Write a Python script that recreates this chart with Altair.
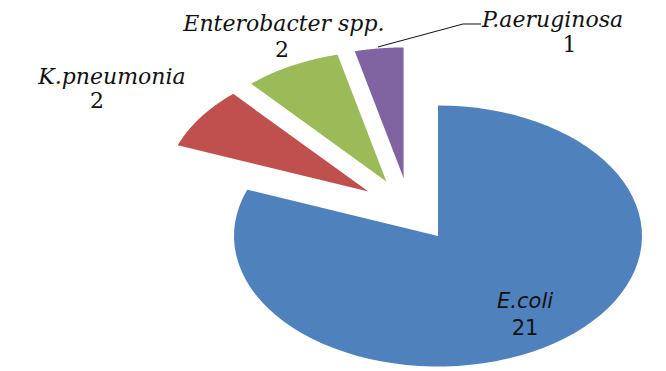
import altair as alt
import pandas as pd

# Isolates by organism
organisms = ["E.coli", "K.pneumonia", "Enterobacter spp.", "P.aeruginosa"]
counts = [21, 2, 2, 1]
colors = ["#4F81BD", "#C0504D", "#9BBB59", "#8064A2"]

# Layout (pixels): pie centre, horizontal / vertical radii, explosion
W, H = 666, 371
CX, CY = 409.6, 209.7
RX, RY = 204.0, 130.5
EXPLODE = 0.245
N_SEG = 80

# Unit-circle domains so that the scales stretch the pie to an ellipse
x_dom = [-CX / RX, (W - CX) / RX]
y_dom = [-(H - CY) / RY, CY / RY]
xs = alt.Scale(domain=x_dom, nice=False, zero=False)
ys = alt.Scale(domain=y_dom, nice=False, zero=False)

slices = pd.DataFrame({"name": organisms, "n": counts, "idx": range(len(organisms))})

pie = (
    alt.Chart(slices)
    .transform_window(cum="sum(n)", sort=[alt.SortField("idx")], frame=[None, 0])
    .transform_joinaggregate(total="sum(n)")
    .transform_calculate(
        a0="2*PI*(datum.cum - datum.n)/datum.total",
        a1="2*PI*datum.cum/datum.total",
        pts=f"sequence(0, {N_SEG + 2})",
    )
    .transform_flatten(["pts"], as_=["k"])
    .transform_calculate(
        mid="(datum.a0 + datum.a1)/2",
        t=f"datum.a0 + (datum.a1 - datum.a0)*(datum.k - 1)/{N_SEG}",
    )
    .transform_calculate(
        px=f"{EXPLODE}*sin(datum.mid) + (datum.k == 0 ? 0 : sin(datum.t))",
        py=f"{EXPLODE}*cos(datum.mid) + (datum.k == 0 ? 0 : cos(datum.t))",
    )
    .mark_line(interpolate="linear-closed", filled=True, strokeWidth=0)
    .encode(
        x=alt.X("px:Q", scale=xs, axis=None),
        y=alt.Y("py:Q", scale=ys, axis=None),
        order="k:Q",
        detail="name:N",
        color=alt.Color("name:N", scale=alt.Scale(domain=organisms, range=colors), legend=None),
    )
)

# Label anchors in the pie's unit coordinates
name_pos = {
    "E.coli": (0.566, -0.753),
    "K.pneumonia": (-1.459, 0.963),
    "Enterobacter spp.": (-0.616, 1.368),
    "P.aeruginosa": (0.355, 1.400),
}
num_pos = {
    "E.coli": (0.566, -0.962),
    "K.pneumonia": (-1.532, 0.779),
    "Enterobacter spp.": (-0.626, 1.170),
    "P.aeruginosa": (0.784, 1.208),
}

labels = pd.DataFrame({
    "name": organisms,
    "num": [str(c) for c in counts],
    "nx": [name_pos[o][0] for o in organisms],
    "ny": [name_pos[o][1] for o in organisms],
    "vx": [num_pos[o][0] for o in organisms],
    "vy": [num_pos[o][1] for o in organisms],
})

serif = "DejaVu Serif"
sans = "DejaVu Sans"

def text_layer(df, xf, yf, tf, font, size, italic, align="center"):
    kw = dict(font=font, fontSize=size, align=align, baseline="alphabetic", color="#111111")
    if italic:
        kw["fontStyle"] = "italic"
    return alt.Chart(df).mark_text(**kw).encode(
        x=alt.X(f"{xf}:Q", scale=xs, axis=None),
        y=alt.Y(f"{yf}:Q", scale=ys, axis=None),
        text=f"{tf}:N",
    )

outer_c = labels[labels["name"].isin(["K.pneumonia", "Enterobacter spp."])]
outer_l = labels[labels["name"] == "P.aeruginosa"]
outer_all = labels[labels["name"] != "E.coli"]
inner = labels[labels["name"] == "E.coli"]

layers = [
    pie,
    text_layer(outer_c, "nx", "ny", "name", serif, 22, True),
    text_layer(outer_l, "nx", "ny", "name", serif, 22, True, align="left"),
    text_layer(outer_all, "vx", "vy", "num", serif, 22, False),
    text_layer(inner, "nx", "ny", "name", sans, 21, True),
    text_layer(inner, "vx", "vy", "num", sans, 21, False),
]

# Leader line to the P.aeruginosa label
leader = pd.DataFrame({
    "lx": [-0.155, 0.262, 0.350],
    "ly": [1.247, 1.423, 1.423],
    "s": [0, 1, 2],
})
leader_line = alt.Chart(leader).mark_line(color="#111111", strokeWidth=1).encode(
    x=alt.X("lx:Q", scale=xs, axis=None),
    y=alt.Y("ly:Q", scale=ys, axis=None),
    order="s:Q",
)
layers.append(leader_line)

chart = (
    alt.layer(*layers)
    .properties(width=W, height=H, padding=0, autosize=alt.AutoSizeParams(type="none"), background="white")
    .configure_view(strokeWidth=0)
)

chart.save("out.html", embed_options={"renderer": "svg", "actions": False})
